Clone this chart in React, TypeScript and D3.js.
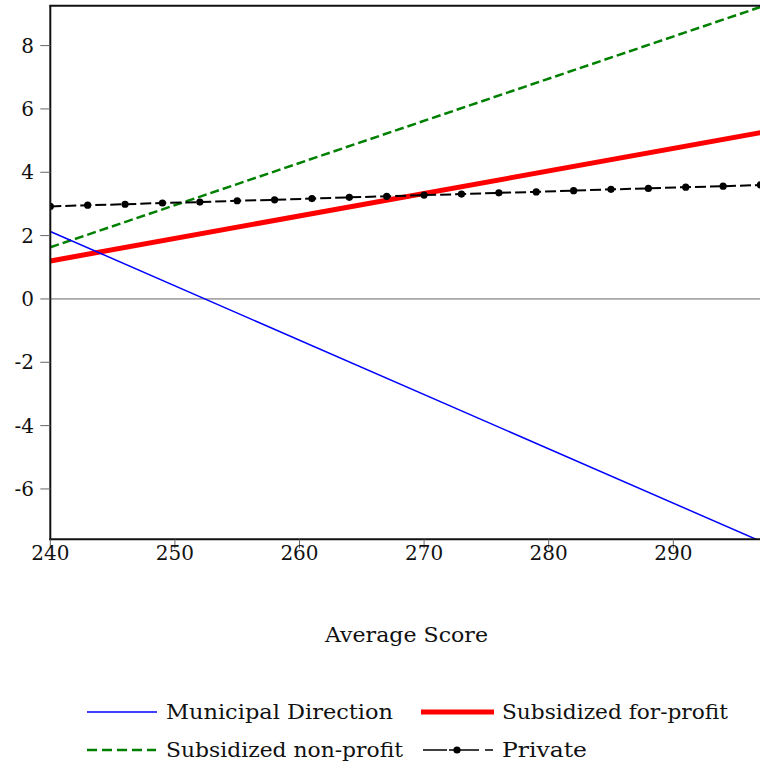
import React from "react";
import * as d3 from "d3";

const scoreEnds = [240, 297];
const municipal = [2.13, -7.65];
const forProfit = [1.2, 5.25];
const nonProfit = [1.63, 9.22];
const privateScores = [240, 243, 246, 249, 252, 255, 258, 261, 264, 267, 270, 273, 276, 279, 282, 285, 288, 291, 294, 297];
const privateValues = [2.92, 2.96, 2.99, 3.03, 3.06, 3.1, 3.13, 3.17, 3.21, 3.24, 3.28, 3.31, 3.35, 3.38, 3.42, 3.46, 3.49, 3.53, 3.56, 3.6];
const xTicks = [240, 250, 260, 270, 280, 290];
const yTicks = [-6, -4, -2, 0, 2, 4, 6, 8];
const legendLabels = ["Municipal Direction", "Subsidized for-profit", "Subsidized non-profit", "Private"];

const W = 760, H = 771;
const L = 50.3, R = 760.5, T = 5.7, B = 539.3;
const FONT = "'DejaVu Serif', serif";

export default function App() {
  const x = d3.scaleLinear().domain([240, 297]).range([L, R]);
  const y = d3.scaleLinear().domain([-7.59, 9.26]).range([B, T]);
  const line = d3.line<[number, number]>().x(d => x(d[0])).y(d => y(d[1]));
  const pts = (xs: number[], ys: number[]) => xs.map((v, i) => [v, ys[i]] as [number, number]);

  return (
    <svg width={W} height={H} style={{ position: "absolute", left: 0, top: 0, background: "#fff" }} fontFamily={FONT}>
      <defs>
        <clipPath id="plot"><rect x={L} y={T} width={R - L + 5} height={B - T} /></clipPath>
      </defs>
      <line x1={L} x2={W} y1={y(0)} y2={y(0)} stroke="#666" strokeWidth={1} />
      <g clipPath="url(#plot)">
        <path d={line(pts(scoreEnds, nonProfit)) || ""} fill="none" stroke="#008000" strokeWidth={2.5} strokeDasharray="9,4" />
        <path d={line(pts(scoreEnds, forProfit)) || ""} fill="none" stroke="#ff0000" strokeWidth={5} />
        <path d={line(pts(scoreEnds, municipal)) || ""} fill="none" stroke="#0000ff" strokeWidth={1.5} />
        <path d={line(pts(privateScores, privateValues)) || ""} fill="none" stroke="#000" strokeWidth={2} strokeDasharray="11,4" />
        {privateScores.map((s, i) => (
          <circle key={i} cx={x(s)} cy={y(privateValues[i])} r={3.6} fill="#000" />
        ))}
      </g>
      <line x1={L} x2={L} y1={T} y2={B + 1} stroke="#111" strokeWidth={2} />
      <line x1={L - 1} x2={W} y1={B} y2={B} stroke="#111" strokeWidth={2} />
      <line x1={L - 1} x2={W} y1={T} y2={T} stroke="#111" strokeWidth={2} />
      {yTicks.map(t => (
        <g key={t}>
          <line x1={L - 10} x2={L} y1={y(t)} y2={y(t)} stroke="#666" strokeWidth={1} />
          <text x={34} y={y(t)} dy="0.35em" textAnchor="end" fontSize={20} fill="#111">{String(t)}</text>
        </g>
      ))}
      {xTicks.map(t => (
        <g key={t}>
          <line x1={x(t)} x2={x(t)} y1={B} y2={B + 9} stroke="#666" strokeWidth={1} />
          <text x={x(t)} y={560} textAnchor="middle" fontSize={20} fill="#111">{String(t)}</text>
        </g>
      ))}
      <text x={325} y={642} fontSize={20.5} fill="#111" textLength={163} lengthAdjust="spacingAndGlyphs">Average Score</text>
      <g>
        <line x1={87} x2={157} y1={712} y2={712} stroke="#0000ff" strokeWidth={1.5} />
        <text x={166} y={719} fontSize={20.5} fill="#111" textLength={227} lengthAdjust="spacingAndGlyphs">{legendLabels[0]}</text>
        <line x1={421} x2={494} y1={712} y2={712} stroke="#ff0000" strokeWidth={5} />
        <text x={502} y={719} fontSize={20.5} fill="#111" textLength={226} lengthAdjust="spacingAndGlyphs">{legendLabels[1]}</text>
        <line x1={87} x2={156} y1={750} y2={750} stroke="#008000" strokeWidth={2.5} strokeDasharray="10,5" />
        <text x={166} y={757} fontSize={20.5} fill="#111" textLength={237} lengthAdjust="spacingAndGlyphs">{legendLabels[2]}</text>
        <line x1={423} x2={493} y1={750} y2={750} stroke="#000" strokeWidth={1.5} strokeDasharray="24,2,30,6,8" />
        <circle cx={457} cy={750} r={3.6} fill="#000" />
        <text x={502} y={757} fontSize={20.5} fill="#111" textLength={85} lengthAdjust="spacingAndGlyphs">{legendLabels[3]}</text>
      </g>
    </svg>
  );
}
